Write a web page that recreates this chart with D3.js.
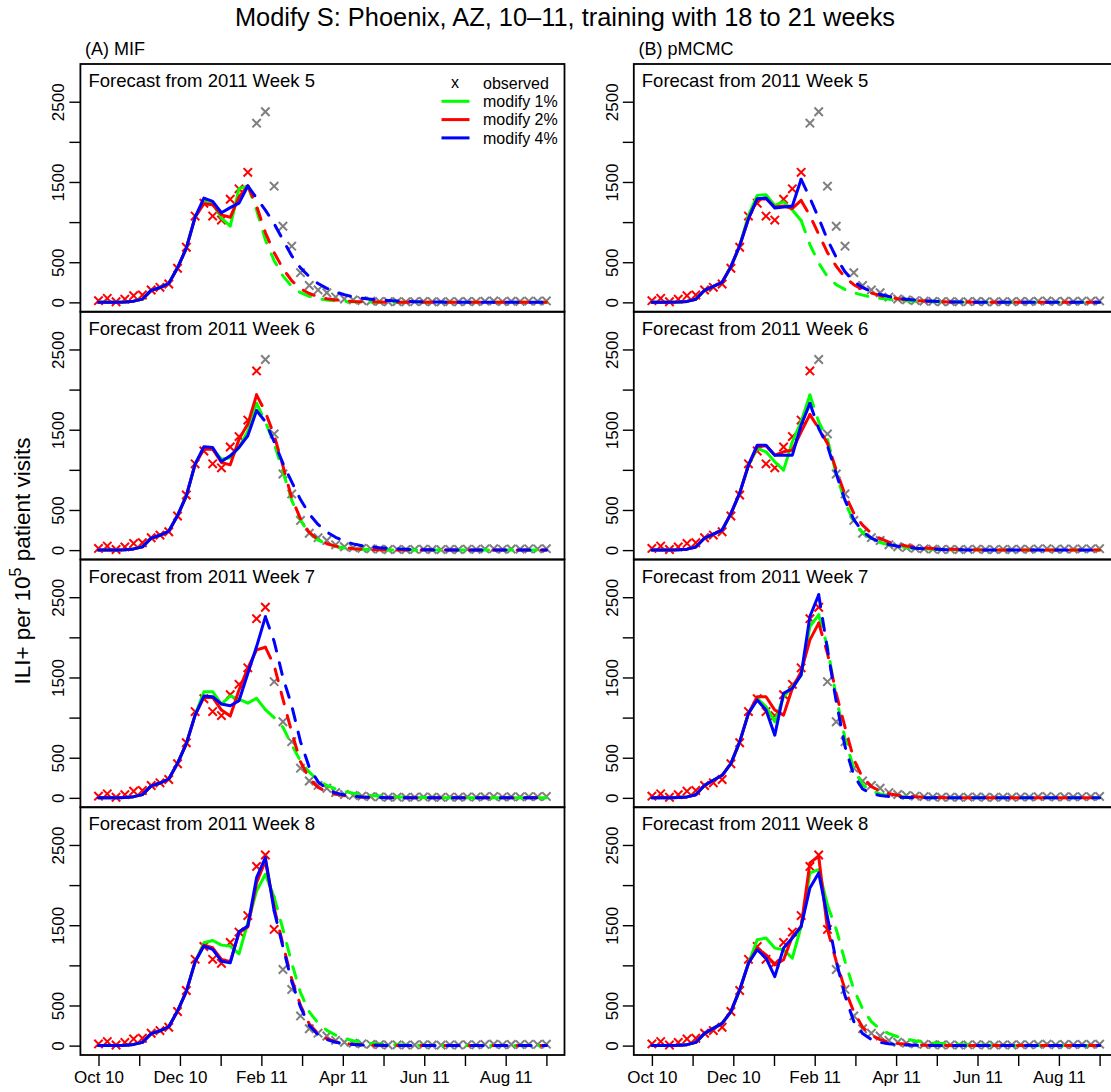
<!DOCTYPE html>
<html>
<head>
<meta charset="utf-8">
<script src="https://cdn.jsdelivr.net/npm/d3@7"></script>
<style>
  body { margin: 0; background: #fff; }
  text { font-family: "Liberation Sans", Arial, Helvetica, sans-serif; fill: #000; }
</style>
</head>
<body>
<svg id="chart" width="1111" height="1092"></svg>
<script>
// observed ILI+ per 10^5, weekly, Oct 2010 (wk 40) .. Sep 2011
const observed = [
  21, 50, 8, 40, 83, 92, 154, 187, 229, 425,
  687, 1075, 1235, 1075, 1025, 1285, 1415, 1620, 2233, 2375,
  1448, 948, 700, 370, 210, 155, 120, 66, 42, 30,
  22, 16, 12, 8, 10, 6, 9, 12, 8, 6,
  10, 8, 12, 10, 15, 18, 10, 14, 12, 16,
  15, 18];

const monthLabels = ["Oct 10", "Nov 10", "Dec 10", "Jan 11", "Feb 11", "Mar 11",
                     "Apr 11", "May 11", "Jun 11", "Jul 11", "Aug 11", "Sep 11"];
const forecastWeeks = [5, 6, 7, 8];
const forecastIndex = [17, 18, 19, 20];   // position of 2011 week 5..8 in the series
const seriesNames = ["modify 1%", "modify 2%", "modify 4%"];
const seriesColors = ["#00ff00", "#ff0000", "#0000ff"];
const yTicks = [0, 500, 1000, 1500, 2000, 2500];
const yLabelled = [0, 500, 1500, 2500];

// ---- (A) MIF ----
const mif5Green = [
  0, 0, 0, 4, 15, 40, 150, 185, 235, 430,
  675, 1062, 1250, 1229, 1050, 950, 1417, 1450, 1150, 780,
  520, 330, 200, 120, 75, 45, 28, 18, 11, 7,
  4, 3, 2, 1, 1, 1, 0, 0, 0, 0,
  0, 0, 0, 0, 0, 0, 0, 0, 0, 0,
  0, 0];
const mif5Red = [
  0, 0, 0, 4, 15, 40, 150, 185, 235, 430,
  675, 1062, 1230, 1217, 1090, 1060, 1313, 1450, 1200, 870,
  620, 420, 270, 170, 110, 70, 45, 30, 20, 12,
  8, 5, 3, 2, 1, 1, 0, 0, 0, 0,
  0, 0, 0, 0, 0, 0, 0, 0, 0, 0,
  0, 0];
const mif5Blue = [
  0, 0, 0, 4, 15, 40, 150, 185, 235, 430,
  675, 1062, 1300, 1258, 1117, 1180, 1237, 1450, 1300, 1150,
  980, 780, 580, 430, 320, 235, 175, 130, 95, 70,
  52, 40, 30, 22, 16, 12, 8, 6, 4, 3,
  2, 1, 1, 0, 0, 0, 0, 0, 0, 0,
  0, 0];

const mif6Green = [
  0, 0, 0, 4, 15, 40, 150, 185, 235, 430,
  675, 1071, 1270, 1260, 1133, 1150, 1280, 1480, 1830, 1600,
  1330, 980, 620, 370, 210, 125, 75, 45, 27, 16,
  10, 6, 4, 2, 1, 1, 0, 0, 0, 0,
  0, 0, 0, 0, 0, 0, 0, 0, 0, 0,
  0, 0];
const mif6Red = [
  0, 0, 0, 4, 15, 40, 150, 185, 235, 430,
  675, 1071, 1258, 1258, 1092, 1062, 1380, 1570, 1935, 1720,
  1430, 1050, 650, 390, 220, 130, 80, 50, 30, 18,
  10, 6, 4, 2, 1, 1, 0, 0, 0, 0,
  0, 0, 0, 0, 0, 0, 0, 0, 0, 0,
  0, 0];
const mif6Blue = [
  0, 0, 0, 4, 15, 40, 150, 185, 235, 430,
  675, 1071, 1288, 1279, 1104, 1175, 1279, 1425, 1738, 1600,
  1350, 1080, 850, 630, 450, 320, 225, 160, 110, 78,
  55, 40, 28, 20, 14, 10, 7, 5, 3, 2,
  1, 1, 0, 0, 0, 0, 0, 0, 0, 0,
  0, 0];

const mif7Green = [
  0, 0, 0, 4, 15, 40, 150, 185, 235, 430,
  675, 1031, 1323, 1323, 1169, 1269, 1230, 1180, 1240, 1100,
  1000, 880, 660, 460, 320, 220, 155, 110, 80, 58,
  42, 30, 22, 16, 11, 8, 6, 4, 3, 2,
  1, 1, 0, 0, 0, 0, 0, 0, 0, 0,
  0, 0];
const mif7Red = [
  0, 0, 0, 4, 15, 40, 150, 185, 235, 430,
  675, 1031, 1252, 1252, 1094, 1019, 1344, 1615, 1844, 1877,
  1650, 1230, 820, 450, 240, 130, 75, 45, 28, 17,
  10, 6, 4, 2, 1, 0, 0, 0, 0, 0,
  0, 0, 0, 0, 0, 0, 0, 0, 0, 0,
  0, 0];
const mif7Blue = [
  0, 0, 0, 4, 15, 40, 150, 185, 235, 430,
  675, 1031, 1269, 1260, 1169, 1148, 1210, 1550, 1885, 2256,
  1950, 1500, 1150, 700, 380, 200, 110, 60, 35, 20,
  12, 7, 4, 2, 1, 0, 0, 0, 0, 0,
  0, 0, 0, 0, 0, 0, 0, 0, 0, 0,
  0, 0];

const mif8Green = [
  0, 0, 0, 4, 15, 40, 150, 185, 235, 430,
  675, 1044, 1281, 1310, 1252, 1240, 1144, 1531, 1927, 2135,
  1850, 1450, 1030, 660, 420, 280, 190, 130, 90, 60,
  42, 30, 21, 15, 10, 7, 5, 3, 2, 1,
  1, 0, 0, 0, 0, 0, 0, 0, 0, 0,
  0, 0];
const mif8Red = [
  0, 0, 0, 4, 15, 40, 150, 185, 235, 430,
  675, 1044, 1252, 1219, 1073, 1044, 1406, 1477, 2031, 2302,
  1720, 1260, 830, 500, 270, 150, 85, 48, 28, 16,
  9, 5, 3, 2, 1, 0, 0, 0, 0, 0,
  0, 0, 0, 0, 0, 0, 0, 0, 0, 0,
  0, 0];
const mif8Blue = [
  0, 0, 0, 4, 15, 40, 150, 185, 235, 430,
  675, 1044, 1240, 1198, 1052, 1031, 1419, 1490, 2094, 2344,
  1680, 1230, 800, 480, 250, 135, 75, 42, 24, 14,
  8, 5, 3, 2, 1, 0, 0, 0, 0, 0,
  0, 0, 0, 0, 0, 0, 0, 0, 0, 0,
  0, 0];

// ---- (B) pMCMC ----
const pm5Green = [
  0, 0, 0, 3, 12, 38, 150, 200, 250, 445,
  705, 1083, 1333, 1342, 1208, 1254, 1150, 1020, 720, 490,
  320, 220, 160, 120, 90, 65, 50, 38, 28, 20,
  15, 11, 8, 6, 4, 3, 2, 1, 1, 0,
  0, 0, 0, 0, 0, 0, 0, 0, 0, 0,
  0, 0];
const pm5Red = [
  0, 0, 0, 3, 12, 38, 150, 200, 250, 445,
  705, 1042, 1283, 1292, 1187, 1200, 1170, 1270, 1080, 850,
  620, 450, 310, 220, 160, 115, 85, 62, 45, 33,
  24, 17, 12, 9, 6, 4, 3, 2, 1, 1,
  0, 0, 0, 0, 0, 0, 0, 0, 0, 0,
  0, 0];
const pm5Blue = [
  0, 0, 0, 3, 12, 38, 150, 200, 250, 445,
  705, 1042, 1292, 1300, 1175, 1188, 1200, 1533, 1300, 1050,
  780, 560, 380, 260, 185, 135, 98, 72, 52, 38,
  27, 19, 13, 9, 6, 4, 3, 2, 1, 1,
  0, 0, 0, 0, 0, 0, 0, 0, 0, 0,
  0, 0];

const pm6Green = [
  0, 0, 0, 3, 12, 38, 150, 200, 250, 455,
  710, 1058, 1267, 1225, 1100, 996, 1350, 1600, 1933, 1600,
  1380, 950, 600, 350, 220, 140, 95, 65, 45, 32,
  22, 16, 11, 8, 5, 3, 2, 1, 1, 0,
  0, 0, 0, 0, 0, 0, 0, 0, 0, 0,
  0, 0];
const pm6Red = [
  0, 0, 0, 3, 12, 38, 150, 200, 250, 455,
  710, 1058, 1288, 1300, 1183, 1225, 1246, 1475, 1688, 1517,
  1330, 1000, 690, 460, 310, 210, 145, 100, 72, 52,
  38, 28, 20, 14, 10, 7, 5, 3, 2, 1,
  1, 0, 0, 0, 0, 0, 0, 0, 0, 0,
  0, 0];
const pm6Blue = [
  0, 0, 0, 3, 12, 38, 150, 200, 250, 455,
  710, 1058, 1308, 1308, 1183, 1183, 1183, 1558, 1829, 1517,
  1300, 950, 620, 380, 230, 150, 100, 70, 48, 34,
  24, 17, 12, 8, 5, 3, 2, 1, 1, 0,
  0, 0, 0, 0, 0, 0, 0, 0, 0, 0,
  0, 0];

const pm7Green = [
  0, 0, 0, 3, 12, 38, 156, 219, 281, 427,
  698, 1052, 1240, 1135, 950, 1260, 1385, 1531, 2135, 2281,
  1880, 1250, 740, 360, 160, 85, 48, 28, 17, 10,
  6, 4, 2, 1, 1, 0, 0, 0, 0, 0,
  0, 0, 0, 0, 0, 0, 0, 0, 0, 0,
  0, 0];
const pm7Red = [
  0, 0, 0, 3, 12, 38, 156, 219, 281, 427,
  698, 1052, 1260, 1260, 1094, 1031, 1365, 1573, 1969, 2177,
  1800, 1300, 880, 480, 250, 140, 85, 52, 32, 20,
  13, 8, 5, 3, 2, 1, 0, 0, 0, 0,
  0, 0, 0, 0, 0, 0, 0, 0, 0, 0,
  0, 0];
const pm7Blue = [
  0, 0, 0, 3, 12, 38, 156, 219, 281, 427,
  698, 1052, 1219, 1094, 781, 1302, 1365, 1531, 2260, 2531,
  1850, 1200, 640, 280, 110, 55, 30, 18, 10, 6,
  4, 2, 1, 0, 0, 0, 0, 0, 0, 0,
  0, 0, 0, 0, 0, 0, 0, 0, 0, 0,
  0, 0];

const pm8Green = [
  0, 0, 0, 3, 12, 40, 152, 215, 277, 423,
  694, 1027, 1319, 1340, 1215, 1194, 1090, 1485, 2152, 2194,
  1750, 1450, 1050, 700, 460, 300, 200, 150, 110, 80,
  60, 45, 34, 26, 20, 15, 11, 8, 6, 4,
  3, 2, 1, 1, 0, 0, 0, 0, 0, 0,
  0, 0];
const pm8Red = [
  0, 0, 0, 3, 12, 40, 152, 215, 277, 423,
  694, 1027, 1215, 1131, 1006, 1069, 1360, 1485, 2277, 2360,
  1450, 1050, 700, 420, 230, 130, 75, 45, 27, 16,
  10, 6, 4, 2, 1, 0, 0, 0, 0, 0,
  0, 0, 0, 0, 0, 0, 0, 0, 0, 0,
  0, 0];
const pm8Blue = [
  0, 0, 0, 3, 12, 40, 152, 215, 277, 423,
  694, 1027, 1194, 1090, 860, 1215, 1340, 1485, 1965, 2152,
  1600, 1050, 620, 300, 150, 75, 40, 22, 12, 7,
  4, 2, 1, 0, 0, 0, 0, 0, 0, 0,
  0, 0, 0, 0, 0, 0, 0, 0, 0, 0,
  0, 0];

const mifRuns = [
  [mif5Green, mif5Red, mif5Blue],
  [mif6Green, mif6Red, mif6Blue],
  [mif7Green, mif7Red, mif7Blue],
  [mif8Green, mif8Red, mif8Blue]];
const pmcmcRuns = [
  [pm5Green, pm5Red, pm5Blue],
  [pm6Green, pm6Red, pm6Blue],
  [pm7Green, pm7Red, pm7Blue],
  [pm8Green, pm8Red, pm8Blue]];

// layout
const svg = d3.select("#chart");
svg.append("rect").attr("width", 1111).attr("height", 1092).attr("fill", "#fff");

const columns = [
  { left: 80.4, right: 564.5, title: "(A) MIF", runs: mifRuns },
  { left: 633.8, right: 1117.7, title: "(B) pMCMC", runs: pmcmcRuns }];
const panelTop = 64;
const panelH = 247.75;
const pad = 18.1;   // R's 4% axis extension

svg.append("text")
    .attr("x", 565).attr("y", 26)
    .attr("text-anchor", "middle")
    .style("font-size", "25.4px")
    .text("Modify S: Phoenix, AZ, 10\u201311, training with 18 to 21 weeks");

// y axis title
const yTitle = svg.append("text")
    .attr("transform", "translate(30,561) rotate(-90)")
    .attr("text-anchor", "middle")
    .style("font-size", "22.5px");
yTitle.append("tspan").text("ILI+ per 10");
yTitle.append("tspan").attr("dy", -9).style("font-size", "16px").text("5");
yTitle.append("tspan").attr("dy", 9).text(" patient visits");

const crossPath = "M-4.2,-4.2L4.2,4.2M-4.2,4.2L4.2,-4.2";

columns.forEach(col => {
  const x = d3.scaleLinear().domain([0, observed.length - 1])
      .range([col.left + pad, col.right - pad]);

  svg.append("text")
      .attr("x", col.left + 4.6).attr("y", 55)
      .style("font-size", "18px")
      .text(col.title);

  forecastWeeks.forEach((wk, r) => {
    const top = panelTop + r * panelH;
    const y = d3.scaleLinear().domain([-117, 2970]).range([top + panelH, top]);
    const fw = forecastIndex[r];
    const g = svg.append("g");

    // y axis
    const yAxis = g.append("g")
        .attr("transform", `translate(${col.left},0)`)
        .call(d3.axisLeft(y).tickValues(yTicks).tickSize(11)
          .tickFormat(d => yLabelled.includes(d) ? d : ""));
    yAxis.select(".domain").remove();
    yAxis.selectAll(".tick line").attr("stroke-width", 1.4);
    yAxis.selectAll(".tick text")
        .attr("transform", "rotate(-90)")
        .attr("x", 0).attr("y", -16).attr("dy", 0)
        .attr("text-anchor", "middle")
        .style("font-size", "17px")
        .style("font-family", "'Liberation Sans', Arial, sans-serif");

    // x axis only on bottom row
    if (r === forecastWeeks.length - 1) {
      const step = (observed.length - 1) / (monthLabels.length - 1);
      const xAxis = g.append("g")
          .attr("transform", `translate(0,${top + panelH})`)
          .call(d3.axisBottom(x).tickValues(monthLabels.map((m, k) => k * step))
            .tickSize(11).tickPadding(5)
            .tickFormat((d, k) => (k % 2 === 0 && k < monthLabels.length - 1) ? monthLabels[k] : ""));
      xAxis.select(".domain").remove();
      xAxis.selectAll(".tick line").attr("stroke-width", 1.4);
      xAxis.selectAll(".tick text")
          .style("font-size", "17px")
          .style("font-family", "'Liberation Sans', Arial, sans-serif");
    }

    // observed crosses: red up to forecast week, grey afterwards
    g.selectAll("path.obs")
      .data(observed.map((v, i) => [i, v]))
      .enter().append("path")
        .attr("class", "obs")
        .attr("d", crossPath)
        .attr("transform", d => `translate(${x(d[0])},${y(d[1])})`)
        .attr("fill", "none")
        .attr("stroke", d => d[0] <= fw ? "#ff0000" : "#7f7f7f")
        .attr("stroke-width", 2);

    // model fits (solid) and forecasts (dashed)
    const line = d3.line().x(d => x(d[0])).y(d => y(d[1]));
    col.runs[r].forEach((vals, s) => {
      const pts = vals.map((v, i) => [i, v]);
      g.append("path")
          .attr("d", line(pts.slice(0, fw + 1)))
          .attr("fill", "none")
          .attr("stroke", seriesColors[s])
          .attr("stroke-width", 3)
          .attr("stroke-linejoin", "round")
          .attr("stroke-linecap", "round");
      g.append("path")
          .attr("d", line(pts.slice(fw)))
          .attr("fill", "none")
          .attr("stroke", seriesColors[s])
          .attr("stroke-width", 3)
          .attr("stroke-dasharray", "12,12")
          .attr("stroke-linejoin", "round")
          .attr("stroke-linecap", "round");
    });

    // panel box
    g.append("rect")
        .attr("x", col.left).attr("y", top)
        .attr("width", col.right - col.left).attr("height", panelH)
        .attr("fill", "none").attr("stroke", "#000").attr("stroke-width", 1.8);

    g.append("text")
        .attr("x", col.left + 8).attr("y", top + 23)
        .style("font-size", "18.5px")
        .text(`Forecast from 2011 Week ${wk}`);
  });
});

// legend (top-left panel)
const legend = svg.append("g").attr("transform", `translate(${columns[0].right},${panelTop})`);
const legendRows = ["observed"].concat(seriesNames);
legendRows.forEach((name, k) => {
  const ly = 19 + k * 18.3;
  if (k === 0) {
    legend.append("text")
        .attr("x", -109.5).attr("y", ly).attr("dy", "0.3em")
        .attr("text-anchor", "middle")
        .style("font-size", "16px")
        .text("x");
  } else {
    legend.append("line")
        .attr("x1", -123).attr("x2", -95)
        .attr("y1", ly).attr("y2", ly)
        .attr("stroke", seriesColors[k - 1])
        .attr("stroke-width", 3);
  }
  legend.append("text")
      .attr("x", -81.5).attr("y", ly).attr("dy", "0.35em")
      .style("font-size", "16px")
      .text(name);
});
</script>
</body>
</html>
